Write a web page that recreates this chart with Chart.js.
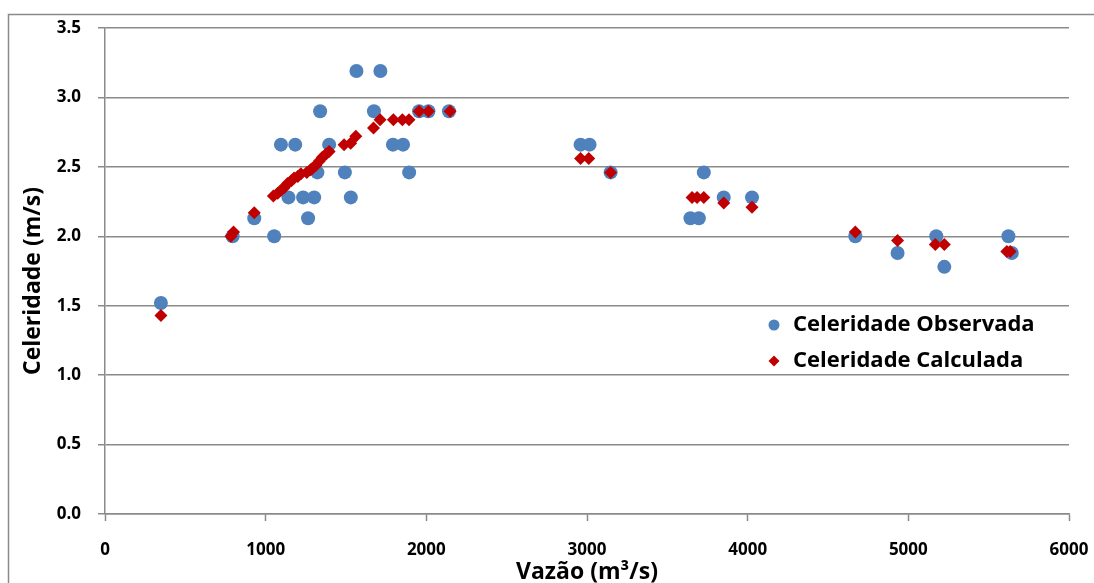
<!DOCTYPE html>
<html>
<head>
<meta charset="utf-8">
<script src="https://cdn.jsdelivr.net/npm/chart.js@4/dist/chart.umd.min.js"></script>
<style>
  html, body { margin: 0; padding: 0; background: #fff; }
  #wrap { width: 1094px; height: 583px; position: relative; }
</style>
</head>
<body>
<div id="wrap"><canvas id="c" width="1094" height="583"></canvas></div>
<script>
// ---- Data ----
const obsLabel = "Celeridade Observada";
const calcLabel = "Celeridade Calculada";
const xTitle = "Vazão (m³/s)";
const yTitle = "Celeridade (m/s)";

const qObs = [348, 794, 929, 1053, 1095, 1142, 1184, 1233, 1264, 1302, 1322, 1339, 1395, 1493, 1530, 1565, 1674, 1714, 1792, 1855, 1893, 1955, 2013, 2141, 2960, 3016, 3147, 3644, 3696, 3727, 3851, 4027, 4670, 4933, 5174, 5224, 5623, 5644];
const cObs = [1.52, 2.00, 2.13, 2.00, 2.66, 2.28, 2.66, 2.28, 2.13, 2.28, 2.46, 2.90, 2.66, 2.46, 2.28, 3.19, 2.90, 3.19, 2.66, 2.66, 2.46, 2.90, 2.90, 2.90, 2.66, 2.66, 2.46, 2.13, 2.13, 2.46, 2.28, 2.28, 2.00, 1.88, 2.00, 1.78, 2.00, 1.88];

const qCalc = [348, 784, 800, 929, 1048, 1075, 1094, 1115, 1136, 1160, 1177, 1200, 1219, 1256, 1280, 1291, 1312, 1333, 1353, 1375, 1395, 1488, 1529, 1561, 1671, 1712, 1795, 1851, 1892, 1955, 2013, 2148, 2960, 3011, 3147, 3654, 3685, 3727, 3851, 4027, 4670, 4933, 5168, 5224, 5613, 5634];
const cCalc = [1.43, 2.00, 2.03, 2.17, 2.29, 2.31, 2.33, 2.35, 2.38, 2.40, 2.42, 2.43, 2.45, 2.46, 2.48, 2.49, 2.51, 2.54, 2.57, 2.59, 2.61, 2.66, 2.67, 2.72, 2.78, 2.84, 2.84, 2.84, 2.84, 2.90, 2.90, 2.90, 2.56, 2.56, 2.46, 2.28, 2.28, 2.28, 2.24, 2.21, 2.03, 1.97, 1.94, 1.94, 1.89, 1.89];

const xTicks = [0, 1000, 2000, 3000, 4000, 5000, 6000];
const yTicks = [0.0, 0.5, 1.0, 1.5, 2.0, 2.5, 3.0, 3.5];

// ---- Styles ----
const BLUE = '#4F81BD';
const RED = '#C00000';
const GRID = '#8a8a8a';
const FONT = "'Open Sans', 'Liberation Sans', sans-serif";

const toPts = (xs, ys) => xs.map((x, i) => ({ x: x, y: ys[i] }));

const framePlugin = {
  id: 'frame',
  beforeDraw(chart) {
    const ctx = chart.ctx;
    ctx.save();
    ctx.strokeStyle = GRID;
    ctx.lineWidth = 1.5;
    ctx.beginPath();
    ctx.moveTo(8.5, 583);
    ctx.lineTo(8.5, 14.5);
    ctx.lineTo(1094, 14.5);
    ctx.stroke();
    ctx.restore();
  }
};

const textPlugin = {
  id: 'texts',
  afterDraw(chart) {
    const ctx = chart.ctx;
    const area = chart.chartArea;
    ctx.save();
    // axis titles
    ctx.fillStyle = '#000';
    ctx.font = "bold 23px " + FONT;
    ctx.textAlign = 'center';
    ctx.textBaseline = 'middle';
    ctx.fillText(xTitle, (area.left + area.right) / 2, 572);
    ctx.save();
    ctx.translate(33, 281);
    ctx.rotate(-Math.PI / 2);
    ctx.fillText(yTitle, 0, 0);
    ctx.restore();

    // legend
    const mx = 774, tx = 793;
    const y1 = 325, y2 = 361;
    ctx.fillStyle = BLUE;
    ctx.beginPath();
    ctx.arc(mx, y1, 5.5, 0, Math.PI * 2);
    ctx.fill();
    ctx.fillStyle = RED;
    const r = 5.5;
    ctx.beginPath();
    ctx.moveTo(mx, y2 - r);
    ctx.lineTo(mx + r, y2);
    ctx.lineTo(mx, y2 + r);
    ctx.lineTo(mx - r, y2);
    ctx.closePath();
    ctx.fill();
    ctx.fillStyle = '#000';
    ctx.font = "bold 22px " + FONT;
    ctx.textAlign = 'left';
    ctx.fillText(chart.data.datasets[1].label, tx, y1);
    ctx.fillText(chart.data.datasets[0].label, tx, y2);
    ctx.restore();
  }
};

new Chart(document.getElementById('c'), {
  type: 'scatter',
  data: {
    datasets: [
      {
        label: calcLabel,
        data: toPts(qCalc, cCalc),
        pointStyle: 'rectRot',
        pointRadius: 6.5,
        backgroundColor: RED,
        borderColor: RED,
        borderWidth: 0,
        order: 0
      },
      {
        label: obsLabel,
        data: toPts(qObs, cObs),
        pointStyle: 'circle',
        pointRadius: 7,
        backgroundColor: BLUE,
        borderColor: BLUE,
        borderWidth: 0,
        order: 1
      }
    ]
  },
  options: {
    responsive: false,
    devicePixelRatio: 1,
    animation: false,
    events: [],
    layout: { padding: { left: 0, top: 28, right: 25, bottom: 0 } },
    plugins: {
      legend: { display: false },
      tooltip: { enabled: false }
    },
    scales: {
      x: {
        type: 'linear',
        min: 0, max: 6000,
        afterBuildTicks(scale) { scale.ticks = xTicks.map(v => ({ value: v })); },
        afterFit(scale) { scale.height = 69; scale.paddingLeft = 0; scale.paddingRight = 0; },
        grid: { drawOnChartArea: false, drawTicks: true, tickLength: 7, tickColor: GRID, tickWidth: 1.5 },
        border: { display: true, color: GRID, width: 1.5 },
        ticks: {
          padding: 19,
          color: '#000',
          font: { family: FONT, size: 17, weight: 'bold' },
          callback: v => String(v),
          maxRotation: 0
        },
        title: { display: false, text: xTitle }
      },
      y: {
        type: 'linear',
        min: 0, max: 3.5,
        afterBuildTicks(scale) { scale.ticks = yTicks.map(v => ({ value: v })); },
        afterFit(scale) { scale.width = 105; scale.paddingTop = 0; scale.paddingBottom = 0; },
        grid: { drawOnChartArea: true, drawTicks: true, tickLength: 7, color: GRID, lineWidth: 1.5 },
        border: { display: true, color: GRID, width: 1.5 },
        ticks: {
          padding: 17,
          color: '#000',
          font: { family: FONT, size: 17, weight: 'bold' },
          callback: v => Number(v).toFixed(1)
        },
        title: { display: false, text: yTitle }
      }
    }
  },
  plugins: [framePlugin, textPlugin]
});
</script>
</body>
</html>
